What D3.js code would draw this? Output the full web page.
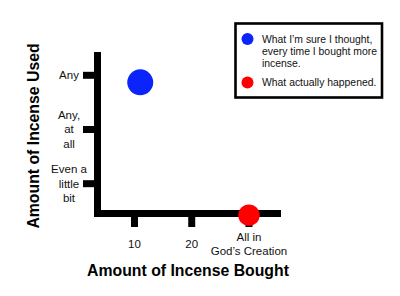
<!DOCTYPE html>
<html>
<head>
<meta charset="utf-8">
<script src="https://cdn.jsdelivr.net/npm/d3@7"></script>
<style>
  body { margin: 0; background: #fff; }
  svg { display: block; font-family: "Liberation Sans", Arial, sans-serif; }
</style>
</head>
<body>
<div id="chart"></div>
<script>
// tick values and their (multi-line) labels
const X_TICKS = [10, 20, 30]
const X_LABELS = ['10', '20', 'All in\nGod\u2019s Creation']
const Y_TICKS = [1, 2, 3]
const Y_LABELS = ['Even a\nlittle\nbit', 'Any,\nat\nall', 'Any']

// the two points
const SERIES = ['What I\u2019m sure I thought,\nevery time I bought more\nincense.', 'What actually happened.']
const SERIES_X = [11, 30]
const SERIES_Y = [2.87, 0.42]
const COLORS = ['#0a24fb', '#ff0000']

var width = 400
var height = 296

var svg = d3
  .select('#chart')
  .append('svg')
  .attr('width', width)
  .attr('height', height)

// scales: domains picked so the axis bars start/end where the picture has them
var xScale = d3.scaleLinear().domain([2.92, 35.6]).range([94, 281])
var yScale = d3.scaleLinear().domain([0.45, 3.43]).range([213.5, 52])

// multi-line text helper, lines centred on y=0
function addLines(sel, lh) {
  sel.each(function (d) {
    var lines = d.split('\n')
    var t = d3.select(this)
    lines.forEach(function (l, i) {
      t.append('tspan')
        .attr('x', t.attr('x'))
        .attr('dy', i === 0 ? ((-(lines.length - 1) / 2) * lh + 4) + 'px' : lh + 'px')
        .text(l)
    })
  })
}

// y axis
var yAxis = svg
  .append('g')
  .attr('transform', 'translate(97.5,0)')
  .call(d3.axisLeft(yScale).tickValues(Y_TICKS).tickSize(14.5).tickSizeOuter(0).tickFormat('').offset(0))
yAxis.select('.domain').attr('stroke', '#000').attr('stroke-width', 7)
yAxis.selectAll('.tick line').attr('stroke', '#000').attr('stroke-width', 7)
yAxis.selectAll('.tick').each(function (d, i) {
  d3.select(this)
    .append('text')
    .datum(Y_LABELS[i])
    .attr('x', -28.5)
    .attr('y', 0)
    .attr('fill', '#111')
    .attr('text-anchor', 'middle')
    .style('font-size', '11.5px')
    .call(addLines, 14.3)
})

// x axis
var xAxis = svg
  .append('g')
  .attr('transform', 'translate(0,213.5)')
  .call(d3.axisBottom(xScale).tickValues(X_TICKS).tickSize(13.5).tickSizeOuter(0).tickFormat('').offset(0))
xAxis.select('.domain').attr('stroke', '#000').attr('stroke-width', 7)
xAxis.selectAll('.tick line').attr('stroke', '#000').attr('stroke-width', 7)
xAxis.selectAll('.tick').each(function (d, i) {
  d3.select(this)
    .append('text')
    .datum(X_LABELS[i])
    .attr('x', 0)
    .attr('y', 0)
    .attr('transform', 'translate(0,30.5)')
    .attr('fill', '#111')
    .attr('text-anchor', 'middle')
    .style('font-size', '11.5px')
    .call(addLines, 13.7)
})

// axis titles
svg.append('text')
  .attr('x', 188)
  .attr('y', 275.5)
  .attr('text-anchor', 'middle')
  .style('font-size', '15.8px')
  .style('font-weight', 'bold')
  .text('Amount of Incense Bought')

svg.append('text')
  .attr('transform', 'translate(38.5,136) rotate(-90)')
  .attr('text-anchor', 'middle')
  .style('font-size', '15.8px')
  .style('font-weight', 'bold')
  .text('Amount of Incense Used')

// the points
svg.selectAll('.dot')
  .data(SERIES_X)
  .enter()
  .append('circle')
  .classed('dot', true)
  .attr('cx', d => xScale(d))
  .attr('cy', (d, i) => yScale(SERIES_Y[i]))
  .attr('r', (d, i) => (i === 0 ? 13 : 10.7))
  .attr('fill', (d, i) => COLORS[i])

// legend
var legend = svg.append('g')
legend.append('rect')
  .attr('x', 235.5)
  .attr('y', 23.5)
  .attr('width', 146.5)
  .attr('height', 74)
  .attr('fill', '#fff')
  .attr('stroke', '#000')
  .attr('stroke-width', 2.6)

var legendY = [39, 82.5]
SERIES.forEach(function (name, i) {
  legend.append('circle')
    .attr('cx', 247.5)
    .attr('cy', legendY[i])
    .attr('r', 6)
    .attr('fill', COLORS[i])
  var lines = name.split('\n')
  var t = legend.append('text')
    .attr('x', 262)
    .attr('y', legendY[i] + 3.8)
    .attr('fill', '#111')
    .style('font-size', '10.4px')
  lines.forEach(function (l, j) {
    t.append('tspan')
      .attr('x', 262)
      .attr('dy', j === 0 ? 0 : 12.2)
      .text(l)
  })
})
</script>
</body>
</html>
